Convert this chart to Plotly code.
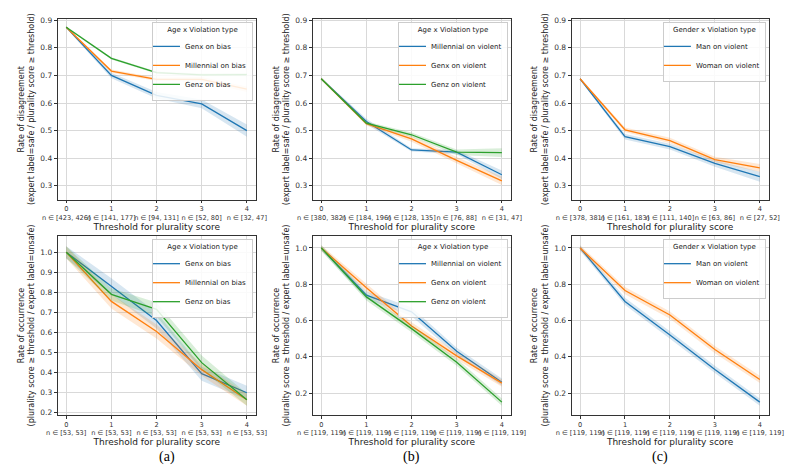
import plotly.graph_objects as go

thresholds = [0, 1, 2, 3, 4]
C = {"blue": "#1f77b4", "orange": "#ff7f0e", "green": "#2ca02c"}
FILL = {"blue": "rgba(31,119,180,0.18)", "orange": "rgba(255,127,14,0.18)", "green": "rgba(44,160,44,0.18)"}

# n ranges (tick labels)
n_a_top = ["[423, 426]", "[141, 177]", "[94, 131]", "[52, 80]", "[32, 47]"]
n_b_top = ["[380, 382]", "[184, 196]", "[128, 135]", "[76, 88]", "[31, 47]"]
n_c_top = ["[378, 381]", "[161, 183]", "[111, 140]", "[63, 86]", "[27, 52]"]
n_a_bot = ["[53, 53]"] * 5
n_b_bot = ["[119, 119]"] * 5
n_c_bot = ["[119, 119]"] * 5

# panel (a) top
a_top_genx = [0.875, 0.700, 0.628, 0.597, 0.500]
a_top_genx_err = [0.004, 0.010, 0.012, 0.016, 0.022]
a_top_mill = [0.875, 0.716, 0.686, 0.686, 0.650]
a_top_mill_err = [0.003, 0.006, 0.006, 0.008, 0.010]
a_top_genz = [0.875, 0.762, 0.710, 0.702, 0.703]
a_top_genz_err = [0.003, 0.004, 0.004, 0.005, 0.006]
# panel (a) bottom
a_bot_genx = [1.0, 0.830, 0.660, 0.395, 0.300]
a_bot_genx_err = [0.03, 0.04, 0.04, 0.035, 0.035]
a_bot_mill = [1.0, 0.755, 0.605, 0.415, 0.265]
a_bot_mill_err = [0.03, 0.035, 0.035, 0.03, 0.03]
a_bot_genz = [1.0, 0.790, 0.715, 0.450, 0.265]
a_bot_genz_err = [0.03, 0.03, 0.035, 0.035, 0.03]
# panel (b) top
b_top_mill = [0.688, 0.533, 0.430, 0.422, 0.340]
b_top_mill_err = [0.004, 0.010, 0.006, 0.008, 0.015]
b_top_genx = [0.688, 0.525, 0.470, 0.392, 0.318]
b_top_genx_err = [0.004, 0.006, 0.010, 0.012, 0.015]
b_top_genz = [0.688, 0.527, 0.485, 0.422, 0.420]
b_top_genz_err = [0.004, 0.006, 0.008, 0.010, 0.016]
# panel (b) bottom
b_bot_mill = [1.0, 0.740, 0.648, 0.430, 0.260]
b_bot_mill_err = [0.015, 0.02, 0.025, 0.02, 0.02]
b_bot_genx = [1.0, 0.780, 0.570, 0.405, 0.255]
b_bot_genx_err = [0.015, 0.02, 0.02, 0.02, 0.02]
b_bot_genz = [1.0, 0.730, 0.555, 0.370, 0.150]
b_bot_genz_err = [0.015, 0.02, 0.02, 0.02, 0.02]
# panel (c) top
c_top_man = [0.688, 0.478, 0.442, 0.381, 0.333]
c_top_man_err = [0.004, 0.010, 0.010, 0.012, 0.018]
c_top_woman = [0.688, 0.503, 0.464, 0.395, 0.365]
c_top_woman_err = [0.004, 0.008, 0.010, 0.010, 0.014]
# panel (c) bottom
c_bot_man = [1.0, 0.705, 0.520, 0.330, 0.150]
c_bot_man_err = [0.015, 0.02, 0.02, 0.02, 0.02]
c_bot_woman = [1.0, 0.765, 0.630, 0.440, 0.275]
c_bot_woman_err = [0.015, 0.02, 0.02, 0.02, 0.02]

W, H = 796, 475
FONT = "DejaVu Sans"
fig = go.Figure()

panels = [
    ((36, 242), (8, 191), n_a_top, (0.25, 0.905), 0.1, "top", "Age x Violation type",
     [("Genx on bias", a_top_genx, a_top_genx_err, "blue"),
      ("Millennial on bias", a_top_mill, a_top_mill_err, "orange"),
      ("Genz on bias", a_top_genz, a_top_genz_err, "green")]),
    ((301, 507), (8, 191), n_b_top, (0.25, 0.905), 0.1, "top", "Age x Violation type",
     [("Millennial on violent", b_top_mill, b_top_mill_err, "blue"),
      ("Genx on violent", b_top_genx, b_top_genx_err, "orange"),
      ("Genz on violent", b_top_genz, b_top_genz_err, "green")]),
    ((570, 775), (8, 191), n_c_top, (0.25, 0.905), 0.1, "top", "Gender x Violation type",
     [("Man on violent", c_top_man, c_top_man_err, "blue"),
      ("Woman on violent", c_top_woman, c_top_woman_err, "orange")]),
    ((36, 242), (228, 409), n_a_bot, (0.19, 1.08), 0.1, "bot", "Age x Violation type",
     [("Genx on bias", a_bot_genx, a_bot_genx_err, "blue"),
      ("Millennial on bias", a_bot_mill, a_bot_mill_err, "orange"),
      ("Genz on bias", a_bot_genz, a_bot_genz_err, "green")]),
    ((301, 507), (228, 409), n_b_bot, (0.08, 1.065), 0.2, "bot", "Age x Violation type",
     [("Millennial on violent", b_bot_mill, b_bot_mill_err, "blue"),
      ("Genx on violent", b_bot_genx, b_bot_genx_err, "orange"),
      ("Genz on violent", b_bot_genz, b_bot_genz_err, "green")]),
    ((570, 775), (228, 409), n_c_bot, (0.08, 1.065), 0.2, "bot", "Gender x Violation type",
     [("Man on violent", c_bot_man, c_bot_man_err, "blue"),
      ("Woman on violent", c_bot_woman, c_bot_woman_err, "orange")]),
]

YT = {"top": "Rate of disagreement<br>(expert label=safe / plurality score ≥ threshold)",
      "bot": "Rate of occurrence<br>(plurality score ≥ threshold / expert label=unsafe)"}

layout = {}
for i, (xd, yd, nl, yr, dt, yk, lt, series) in enumerate(panels):
    k = "" if i == 0 else str(i + 1)
    xa, ya = "x" + k, "y" + k
    lg = "legend" + k
    for name, vals, err, col in series:
        lo = [v - e for v, e in zip(vals, err)]
        hi = [v + e for v, e in zip(vals, err)]
        fig.add_trace(go.Scatter(x=thresholds, y=lo, mode="lines", line=dict(width=0),
                                 showlegend=False, hoverinfo="skip", xaxis=xa, yaxis=ya))
        fig.add_trace(go.Scatter(x=thresholds, y=hi, mode="lines", line=dict(width=0),
                                 fill="tonexty", fillcolor=FILL[col], showlegend=False,
                                 hoverinfo="skip", xaxis=xa, yaxis=ya))
        fig.add_trace(go.Scatter(x=thresholds, y=vals, mode="lines", name=name,
                                 line=dict(color=C[col], width=1.3), xaxis=xa, yaxis=ya,
                                 legend=lg))
    axcommon = dict(showline=True, mirror=True, linecolor="#333", linewidth=0.8,
                    showgrid=True, gridcolor="#d9d9d9", gridwidth=0.8, zeroline=False,
                    ticks="outside", ticklen=3, tickcolor="#333",
                    tickfont=dict(size=7.5, family=FONT, color="#333"))
    layout["xaxis" + k] = dict(axcommon, domain=[xd[0] / W, xd[1] / W], anchor=ya,
                               range=[-0.19, 4.2], tickvals=thresholds, tickangle=0,
                               tickfont=dict(size=6.6, family=FONT, color="#333"),
                               ticktext=[f"{t}<br>n ∈ {n}" for t, n in zip(thresholds, nl)],
                               title=dict(text="Threshold for plurality score", standoff=1,
                                          font=dict(size=9, family=FONT, color="#222")))
    layout["yaxis" + k] = dict(axcommon, domain=[1 - yd[1] / H, 1 - yd[0] / H], anchor=xa,
                               range=list(yr), dtick=dt, tick0=0, tickformat=".1f",
                               title=dict(text=YT[yk], standoff=4,
                                          font=dict(size=8, family=FONT, color="#222")))
    layout[lg] = dict(x=(xd[1] - 3) / W, y=1 - (yd[0] + 3) / H, xanchor="right", yanchor="top",
                      bgcolor="rgba(255,255,255,0.85)", bordercolor="#ccc", borderwidth=1,
                      title=dict(text=lt, side="top center", font=dict(size=7, family=FONT)),
                      font=dict(size=7, family=FONT, color="#222"), traceorder="normal",
                      tracegroupgap=0, itemwidth=30, indentation=-8)

for lbl, xc in [("(a)", 139), ("(b)", 404), ("(c)", 672)]:
    fig.add_annotation(text=lbl, x=xc / W, y=1 - 462 / H, xref="paper", yref="paper",
                       showarrow=False, font=dict(size=14, family="Liberation Serif", color="#000"))

fig.update_layout(width=W, height=H, margin=dict(l=0, r=0, t=0, b=0),
                  paper_bgcolor="white", plot_bgcolor="white", **layout)
fig.write_html("out.html")
